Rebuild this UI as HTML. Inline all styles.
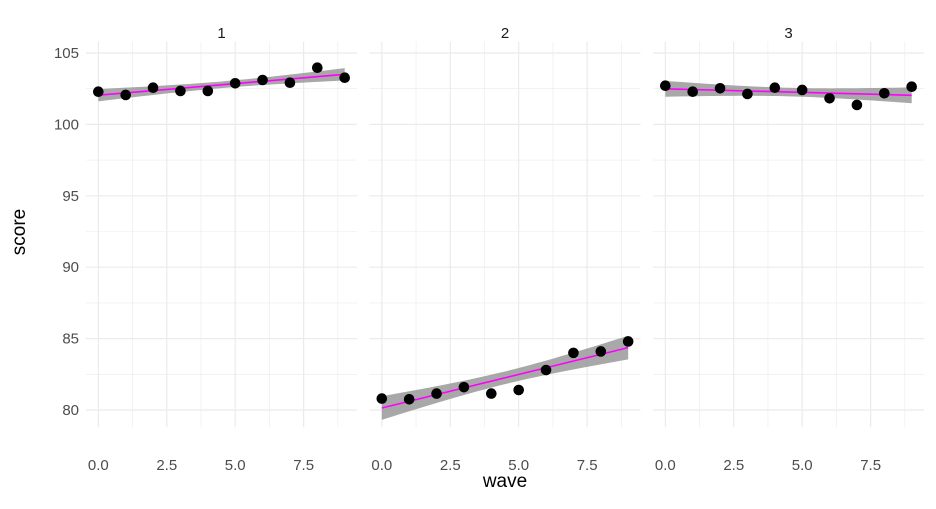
<!DOCTYPE html>
<html><head><meta charset="utf-8"><style>
body{margin:0;background:#fff}
svg text{font-family:"Liberation Sans",Arial,sans-serif}
</style></head><body>
<svg id="c" width="936" height="504" viewBox="0 0 936 504" xmlns="http://www.w3.org/2000/svg"></svg>
<script>
const facets = ["1","2","3"];
const waves = [0,1,2,3,4,5,6,7,8,9];
const score1 = [102.29,102.06,102.57,102.34,102.34,102.88,103.11,102.92,103.97,103.27];
const score2 = [80.8,80.75,81.15,81.6,81.15,81.4,82.8,84.0,84.1,84.8];
const score3 = [102.71,102.29,102.53,102.13,102.57,102.41,101.83,101.36,102.18,102.64];
const yTicks = [80,85,90,95,100,105];
const xTicks = [0,2.5,5,7.5];
const xTickLabels = ["0.0","2.5","5.0","7.5"];
const series = [score1,score2,score3];

const NS="http://www.w3.org/2000/svg";
const svg=document.getElementById('c');
function mk(t,a,p){const e=document.createElementNS(NS,t);for(const k in a)e.setAttribute(k,a[k]);(p||svg).appendChild(e);return e;}
const panelLeft=[86,369.5,653], panelW=271, panelTop=42, panelBottom=428;
const xmin=-0.45,xmax=9.45, ymin=78.8, ymax=105.8;
function sx(p,v){return panelLeft[p]+(v-xmin)/(xmax-xmin)*panelW;}
function sy(v){return 410-(v-80)*14.28;}
const ybot=sy(ymin), ytop=sy(ymax);

facets.forEach((f,p)=>{
  const g=mk('g',{});
  
  
  for(let v=77.5;v<=105.8;v+=5){ if(v<ymin)continue;
    const l=mk('line',{x1:panelLeft[p],x2:panelLeft[p]+panelW,y1:sy(v),y2:sy(v),stroke:'#ebebeb','stroke-width':0.6},g);
    
    }
  for(let v=1.25;v<=9.45;v+=2.5){
    const l=mk('line',{x1:sx(p,v),x2:sx(p,v),y1:ytop,y2:ybot,stroke:'#ebebeb','stroke-width':0.6},g);
    
    }
  yTicks.forEach(v=>{
    const l=mk('line',{x1:panelLeft[p],x2:panelLeft[p]+panelW,y1:sy(v),y2:sy(v),stroke:'#ebebeb','stroke-width':1.2},g);
    
    });
  xTicks.forEach((v,i)=>{
    const l=mk('line',{x1:sx(p,v),x2:sx(p,v),y1:ytop,y2:ybot,stroke:'#ebebeb','stroke-width':1.2},g);
    
    
    const t=mk('text',{x:sx(p,v),y:470,'text-anchor':'middle','font-size':15,fill:'#4d4d4d'},g);
    t.textContent=xTickLabels[i];
    
    });
  const st=mk('text',{x:panelLeft[p]+panelW/2,y:38,'text-anchor':'middle','font-size':15,fill:'#1a1a1a'},g);
  st.textContent=f;
  
  
  const ys=series[p],n=ys.length;
  const mx=waves.reduce((a,b)=>a+b,0)/n,my=ys.reduce((a,b)=>a+b,0)/n;
  let sxx=0,sxy=0;waves.forEach((x,i)=>{sxx+=(x-mx)**2;sxy+=(x-mx)*(ys[i]-my);});
  const b=sxy/sxx,a=my-b*mx;
  let sse=0;waves.forEach((x,i)=>{sse+=(ys[i]-a-b*x)**2;});
  const s=Math.sqrt(sse/(n-2)),tq=2.306;
  const up=[],lo=[];
  for(let k=0;k<=40;k++){const x=9*k/40,se=s*Math.sqrt(1/n+(x-mx)**2/sxx),yh=a+b*x;
    up.push(sx(p,x)+','+sy(yh+tq*se));lo.unshift(sx(p,x)+','+sy(yh-tq*se));}
  const band=mk('polygon',{points:up.concat(lo).join(' '),fill:'#999999','fill-opacity':0.85},g);
  
  
  const ln=mk('line',{x1:sx(p,0),y1:sy(a),x2:sx(p,9),y2:sy(a+9*b),stroke:'#ff00ff','stroke-width':1.6},g);
  
  
  waves.forEach((x,i)=>{
    const c=mk('circle',{cx:sx(p,x),cy:sy(ys[i]),r:5.3,fill:'#000'},g);
    
    });
});
yTicks.forEach(v=>{
  const t=mk('text',{x:79,y:sy(v)+5,'text-anchor':'end','font-size':15,fill:'#4d4d4d'});
  t.textContent=v;
  
  });
const yt=mk('text',{x:0,y:0,'text-anchor':'middle','font-size':19,fill:'#000',transform:'translate(25,232) rotate(-90)'});
yt.textContent='score';


const xt=mk('text',{x:505,y:487,'text-anchor':'middle','font-size':19,fill:'#000'});
xt.textContent='wave';


</script>
</body></html>
